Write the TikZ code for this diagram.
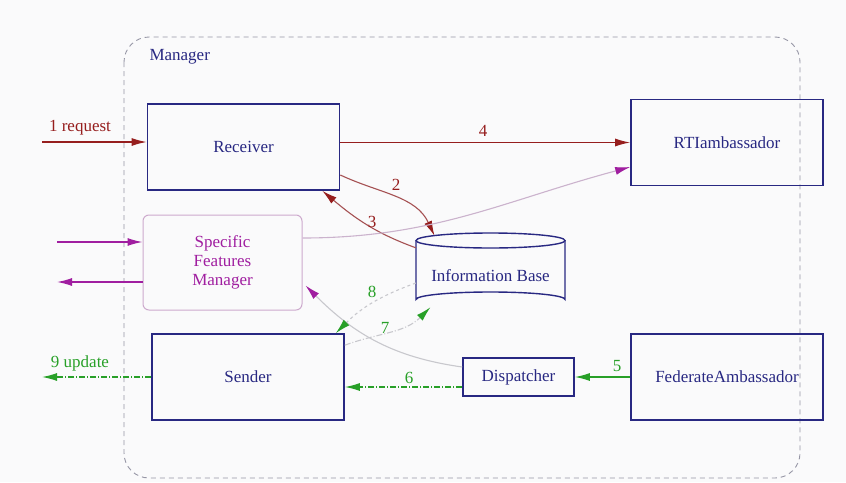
\documentclass[tikz,border=0pt]{standalone}
\usepackage{fontspec}
\setmainfont{Liberation Serif}
\usepackage{tikz}
\usetikzlibrary{arrows.meta}

\definecolor{boxblue}{RGB}{40,40,130}
\definecolor{flowred}{RGB}{150,30,30}
\definecolor{flowgreen}{RGB}{40,160,40}
\definecolor{flowpurple}{RGB}{160,30,160}
\definecolor{sfmline}{RGB}{205,170,205}
\definecolor{faintline}{RGB}{200,200,205}
\definecolor{framegray}{RGB}{150,150,165}
\definecolor{paper}{RGB}{250,250,251}

\begin{document}
\begin{tikzpicture}[x=1pt,y=1pt,yscale=-1,
  every node/.style={font=\fontsize{17}{19}\selectfont},
  block/.style={draw=boxblue,line width=1.6pt,text=boxblue,minimum width=192pt,minimum height=86pt,inner sep=0pt},
  redtip/.style={-{Latex[length=15pt,width=8pt,flowred]}},
  greentip/.style={-{Latex[length=15pt,width=8pt,flowgreen]}},
  purpletip/.style={-{Latex[length=15pt,width=8pt,flowpurple]}},
  dashdot/.style={dash pattern=on 6pt off 2pt on 1pt off 2pt},
  numlabel/.style={inner sep=1pt}]
\useasboundingbox[fill=paper] (0,0) rectangle (846,482);

%Manager frame
\draw[framegray,line width=0.9pt,dash pattern=on 5pt off 4pt,rounded corners=25pt] (124,37) rectangle (800,478);
\node[anchor=west,text=boxblue] (mgr) at (146,57) {Manager};

%Blocks
\node[block] (recv) at (243.5,147) {Receiver};
\node[block] (rti) at (727,142.5) {RTIambassador};
\node[block] (send) at (248,377) {Sender};
\node[block] (fed) at (727,377) {FederateAmbassador};
\node[block,minimum width=111pt,minimum height=38pt] (disp) at (518.5,377) {Dispatcher};
\node[draw=sfmline,line width=1pt,rounded corners=6pt,text=flowpurple,align=center,
  minimum width=159pt,minimum height=95pt,inner sep=0pt] (sfm) at (222.5,262.5) {Specific\\Features\\Manager};

%Information Base (cylinder)
\node[minimum width=149pt,minimum height=74pt,inner sep=0pt,text=boxblue] (ib) at (490.5,270) {};
\draw[boxblue,line width=1.4pt] (416,240.5) -- (416,299.5) arc[start angle=180,end angle=360,x radius=74.5,y radius=7.5] -- (565,240.5);
\draw[boxblue,line width=1.4pt] (490.5,240.5) ellipse[x radius=74.5,y radius=7.5];
\node[text=boxblue] (iblabel) at (490.5,276) {Information Base};

%Coordinates outside
\coordinate (reqin) at (42,142);
\coordinate (updout) at (42,377);
\coordinate (sfmin) at (57,242);
\coordinate (sfmout) at (57,282);

%1 and 4
\draw[flowred,line width=1.3pt,redtip] (reqin) -- (reqin -| recv.west);
\draw[flowred,line width=1.3pt,redtip] (recv.east |- rti.west) -- (rti.west);
%2 and 3
\draw[flowred!70!faintline,line width=1.1pt,redtip] ([yshift=28pt]recv.east) to[out=25,in=-115] ([xshift=-56pt,yshift=3pt]ib.north);
\draw[flowred!70!faintline,line width=1.1pt,redtip] ([yshift=15pt]ib.north west) to[out=-160,in=40] ([xshift=-18pt]recv.south east);

%purple flows
\draw[flowpurple,line width=1.3pt,purpletip] (sfmin) -- (sfmin -| sfm.west);
\draw[flowpurple,line width=1.3pt,purpletip] (sfmout -| sfm.west) -- (sfmout);
\draw[sfmline!70!faintline,line width=1.1pt,purpletip] ([yshift=-24.5pt]sfm.east) to[out=0,in=165] ([yshift=24.5pt]rti.west);
\draw[faintline,line width=1.1pt,purpletip] ([yshift=-10pt]disp.west) to[out=188,in=45] ([xshift=3pt,yshift=23pt]sfm.east);

%green flows
\draw[flowgreen,line width=1.3pt,greentip] (fed.west) -- (disp.east);
\draw[flowgreen,line width=1.3pt,dashdot,greentip] ([yshift=10pt]disp.west) -- ([yshift=10pt]send.east);
\draw[flowgreen,line width=1.3pt,dashdot,greentip] (send.west) -- (updout);
\draw[faintline,line width=1.1pt,dashed,greentip] ([yshift=13pt]ib.west) to[out=160,in=-45] ([xshift=-9pt]send.north east);
\draw[faintline,line width=1.1pt,dashdot,greentip] ([yshift=12pt]send.north east) to[out=-20,in=135] ([xshift=-60pt]ib.south);

% Text Node
\node[text=flowred] (lreq) at (80,128) {1 request};
\node[text=flowred,numlabel] (l2) at (396,185) {2};
\node[text=flowred,numlabel] (l3) at (372,222) {3};
\node[text=flowred,numlabel] (l4) at (483,131) {4};
\node[text=flowgreen,numlabel] (l5) at (617,366) {5};
\node[text=flowgreen,numlabel] (l6) at (409,378) {6};
\node[text=flowgreen,numlabel] (l7) at (385,328) {7};
\node[text=flowgreen,numlabel] (l8) at (372,292) {8};
\node[text=flowgreen] (lupd) at (80,363) {9 update};

\end{tikzpicture}
\end{document}
